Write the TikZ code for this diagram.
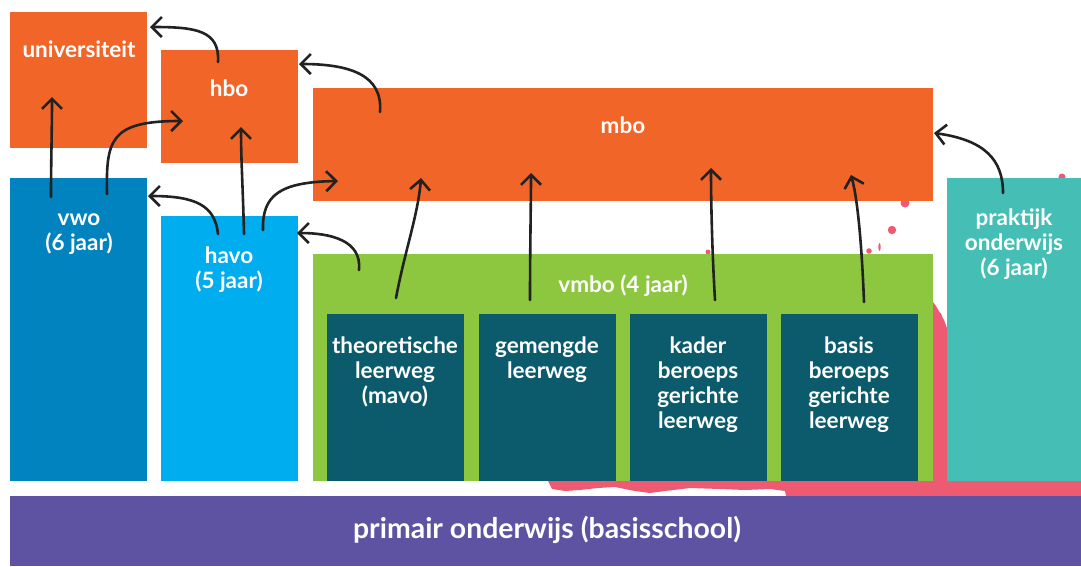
\documentclass[tikz,border=0pt]{standalone}
\usepackage{fontspec}
\setmainfont{Lato}
\usetikzlibrary{arrows.meta}
\definecolor{orng}{HTML}{F26529}
\definecolor{vwoblue}{HTML}{0083BF}
\definecolor{havoblue}{HTML}{00ADEE}
\definecolor{vgreen}{HTML}{8DC63F}
\definecolor{dteal}{HTML}{0B5B6D}
\definecolor{pteal}{HTML}{45BFB5}
\definecolor{purp}{HTML}{5E53A3}
\definecolor{pink}{HTML}{EF5A73}
\definecolor{arrowc}{HTML}{222222}
\newcommand{\st}{\rule{0pt}{18pt}}
\newcommand{\bst}{\rule{0pt}{22pt}}
\tikzset{
  box/.style={draw=none, inner sep=0pt, anchor=north west},
  lbl/.style={text=white, font=\bfseries\fontsize{22.5}{25}\selectfont, align=center, inner sep=0pt, anchor=north},
  biglbl/.style={text=white, font=\bfseries\fontsize{28.4}{32}\selectfont, align=center, inner sep=0pt, anchor=north},
  arr/.style={draw=arrowc, line width=2.6pt, line cap=round, line join=round,
    -{Straight Barb[length=10pt,width=20pt]}},
  splash/.style={fill=pink, draw=none}
}
\begin{document}
\begin{tikzpicture}[x=1pt,y=-1pt]
\useasboundingbox (0,0) rectangle (1081,566);
% pink splash
\fill[splash] (933,302) -- (936,306) -- (940,313) -- (944,320) -- (947,328) -- (947,482) -- (933,482) -- cycle;
\fill[splash] (548,481) -- (1081,481) -- (1081,496) -- (786,496) -- (785,491) -- (770,489) -- (745,490)
  -- (720,489) -- (690,488) -- (665,491) -- (650,493) -- (635,491) -- (615,487) -- (598,488)
  -- (580,490) -- (565,491) -- (552,489) -- cycle;
\fill[splash] (905,203) circle (4.5);
\fill[splash] (892,230) circle (4.2);
\fill[splash] (869,251) circle (2.8);
\fill[splash] (879.5,247) ellipse (1.2 and 4);
\fill[splash] (708,252) circle (2.5);
\fill[splash] (1062,177) circle (3.5);
\fill[splash] (938,316) circle (4);
% boxes
\node[box, fill=orng, minimum width=137pt, minimum height=136pt] (univ) at (10,12) {};
\node[box, fill=orng, minimum width=137pt, minimum height=113pt] (hbo) at (161,50) {};
\node[box, fill=orng, minimum width=620pt, minimum height=113pt] (mbo) at (313,88) {};
\node[box, fill=vwoblue, minimum width=137pt, minimum height=303pt] (vwo) at (10,178) {};
\node[box, fill=havoblue, minimum width=137pt, minimum height=265pt] (havo) at (161,216) {};
\node[box, fill=vgreen, minimum width=620pt, minimum height=227pt] (vmbo) at (313,254) {};
\node[box, fill=dteal, minimum width=137pt, minimum height=167pt] (theo) at (327,314) {};
\node[box, fill=dteal, minimum width=137pt, minimum height=167pt] (gem) at (479,314) {};
\node[box, fill=dteal, minimum width=137pt, minimum height=167pt] (kader) at (630,314) {};
\node[box, fill=dteal, minimum width=137pt, minimum height=167pt] (basis) at (781,314) {};
\node[box, fill=pteal, minimum width=134pt, minimum height=303pt] (prak) at (947,178) {};
\node[box, fill=purp, minimum width=1071pt, minimum height=70pt] (prim) at (10,496) {};
% labels
\node[lbl] (tuniv) at (79,39) {\st universiteit};
\node[lbl] (thbo) at (229,78) {\st hbo};
\node[lbl] (tmbo) at (623,115) {\st mbo};
\node[lbl] (tvwo) at (79,207) {\st vwo\\(6 jaar)};
\node[lbl] (thavo) at (229,245) {\st havo\\(5 jaar)};
\node[lbl] (tvmbo) at (623,274) {\st vmbo (4 jaar)};
\node[lbl] (ttheo) at (395,335) {\st theoretische\\leerweg\\(mavo)};
\node[lbl] (tgem) at (547,335) {\st gemengde\\leerweg};
\node[lbl] (tkader) at (698,335) {\st kader\\beroeps\\gerichte\\leerweg};
\node[lbl] (tbasis) at (849,335) {\st basis\\beroeps\\gerichte\\leerweg};
\node[lbl] (tprak) at (1014,207) {\st praktijk\\onderwijs\\(6 jaar)};
\node[biglbl] (tprim) at (547,516) {\bst primair onderwijs (basisschool)};
% arrows
\draw[arr] (51,197) .. controls (51,160) and (52,130) .. (52,97);
\draw[arr] (107,194) .. controls (106,140) and (110,121) .. (183,121);
\draw[arr] (218,62) .. controls (220,30) and (195,27) .. (150,27);
\draw[arr] (244,234) .. controls (243,190) and (241,160) .. (241,127);
\draw[arr] (218,234) .. controls (215,205) and (195,196) .. (148,196);
\draw[arr] (263,230) .. controls (262,195) and (280,182) .. (338,181);
\draw[arr] (380,112) .. controls (383,75) and (350,64) .. (299,64);
\draw[arr] (359,270) .. controls (362,240) and (330,233) .. (297,233);
\draw[arr] (396,298) .. controls (405,250) and (418,215) .. (421,178);
\draw[arr] (530,300) .. controls (530,250) and (531,200) .. (531,173);
\draw[arr] (715,300) .. controls (712,250) and (711,200) .. (711,168);
\draw[arr] (864,302) .. controls (862,250) and (858,200) .. (851,175);
\draw[arr] (1003,193) .. controls (1003,160) and (985,140) .. (934,133);
\end{tikzpicture}
\end{document}
